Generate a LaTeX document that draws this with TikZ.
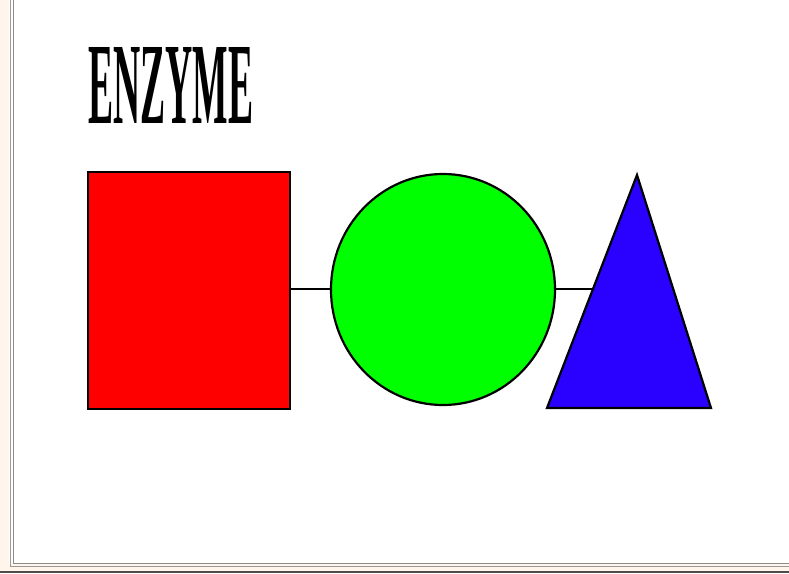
\documentclass[tikz,border=0pt]{standalone}
\usepackage{fontspec}
\setmainfont{Liberation Serif}
\usetikzlibrary{shapes.geometric}
\begin{document}
\begin{tikzpicture}[x=1pt,y=-1pt,
  shapeline/.style={draw=black,line width=2.2pt},
  link/.style={draw=black,line width=1.2pt}]
\useasboundingbox (0,0) rectangle (789,573);
\fill[white] (0,0) rectangle (789,573);
% frame
\fill[orange!8] (0,0) rectangle (9,573);
\fill[orange!8] (0,564) rectangle (789,571);
\fill[black!70] (0,571) rectangle (789,573);
\draw[black!40,line width=1pt] (10,0) -- (10,566) -- (789,566);
\draw[black!45,line width=1pt] (13.5,0) -- (13.5,563) -- (789,563);
% title
\node[anchor=north west,inner sep=0pt] (title) at (88,47)
  {\resizebox{165pt}{76pt}{\bfseries ENZYME}};
% shapes
\node[shapeline,fill={rgb,255:red,255;green,0;blue,0},rectangle,
  minimum width=202pt,minimum height=237pt,inner sep=0pt] (sq) at (189,290.5) {};
\node[shapeline,fill={rgb,255:red,0;green,255;blue,0},ellipse,
  minimum width=224pt,minimum height=231pt,inner sep=0pt] (circ) at (443,289.5) {};
\coordinate (tapex) at (637,175);
\coordinate (tbl) at (547,408);
\coordinate (tbr) at (711,408);
\coordinate (tleft) at (592.5,289);
\draw[shapeline,fill={rgb,255:red,42;green,0;blue,255},line join=miter] (tapex) -- (tbl) -- (tbr) -- cycle;
% connectors
\draw[link] (sq.east |- 0,289) -- (circ.west |- 0,289);
\draw[link] (circ.east |- 0,289) -- (tleft);
\end{tikzpicture}
\end{document}
